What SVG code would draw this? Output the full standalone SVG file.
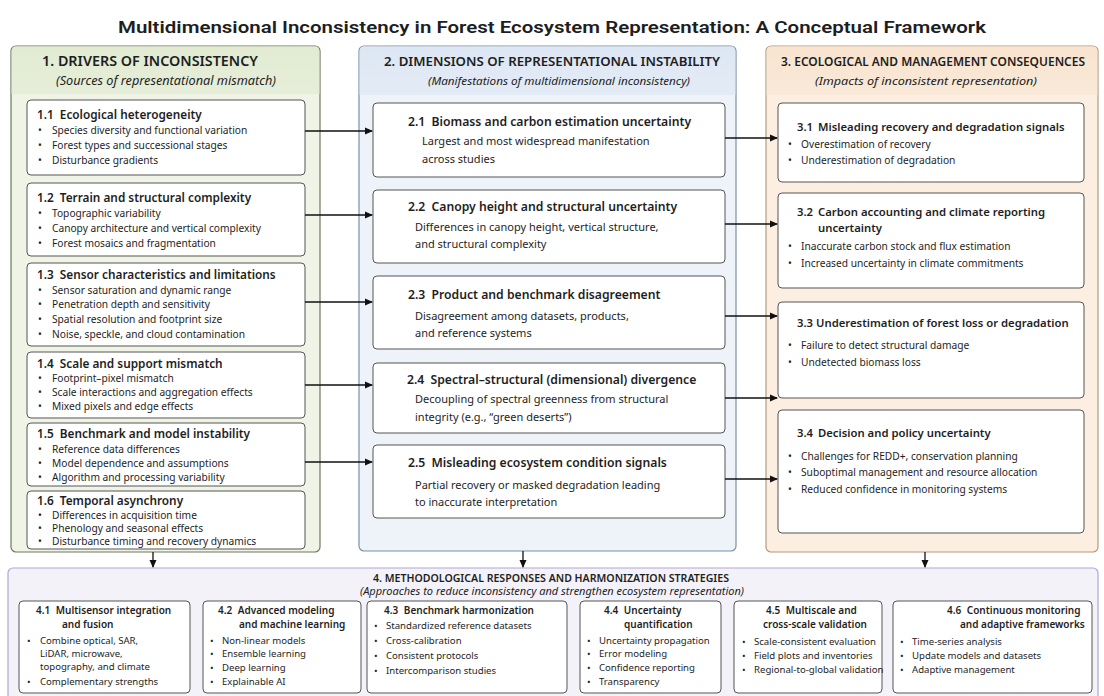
<svg xmlns="http://www.w3.org/2000/svg" width="1104" height="696" viewBox="0 0 1104 696">
<style>
text{font-family:"Noto Sans","Open Sans","Liberation Sans",sans-serif;fill:#1e1e1e}
.title{font-family:"Roboto","Liberation Sans",sans-serif;font-size:16.5px;font-weight:600}
.ph{font-size:13px;font-weight:600}
.ps{font-size:11.5px;font-style:italic}
.bt1{font-size:11.8px;font-weight:600}
.bt2{font-size:12.2px;font-weight:600}
.bt3{font-size:11.3px;font-weight:600}
.b{font-size:10.2px}
.d{font-size:11px}
.st{font-size:10px;font-weight:600}
.sb{font-size:9.6px}
.box{fill:#fff;stroke:#555;stroke-width:1}
.conn line{stroke:#111;stroke-width:1.3}
</style>
<defs>
<marker id="ah" markerWidth="8" markerHeight="8" refX="7" refY="4" orient="auto" markerUnits="userSpaceOnUse">
<path d="M0,0.5 L8,4 L0,7.5 z" fill="#111"/>
</marker>
<linearGradient id="g1" x1="0" y1="0" x2="0" y2="1"><stop offset="0" stop-color="#e2ebd2"/><stop offset="1" stop-color="#e6eed9"/></linearGradient>
<linearGradient id="g2" x1="0" y1="0" x2="0" y2="1"><stop offset="0" stop-color="#dde7f3"/><stop offset="1" stop-color="#e3ebf6"/></linearGradient>
<linearGradient id="g3" x1="0" y1="0" x2="0" y2="1"><stop offset="0" stop-color="#f8e4cf"/><stop offset="1" stop-color="#f9e9d8"/></linearGradient>
</defs>
<rect width="1104" height="696" fill="#ffffff"/>
<text class="title" x="552" y="33" text-anchor="middle" textLength="868" lengthAdjust="spacingAndGlyphs">Multidimensional Inconsistency in Forest Ecosystem Representation: A Conceptual Framework</text>

<g id="panel1">
<rect x="11" y="46" width="309" height="506" rx="5" fill="#f0f4e7" stroke="#6c7a5e" stroke-width="1.2"/>
<path d="M16,46.6 H315 Q319.4,46.6 319.4,51 V94 H11.6 V51 Q11.6,46.6 16,46.6 z" fill="url(#g1)"/>
<text class="ph" x="42" y="66" style="font-size:14.5px" textLength="216" lengthAdjust="spacingAndGlyphs">1. DRIVERS OF INCONSISTENCY</text>
<text class="ps" x="56" y="85" style="font-size:12.5px" textLength="220" lengthAdjust="spacingAndGlyphs">(Sources of representational mismatch)</text>
</g>
<g id="panel2">
<rect x="359" y="46" width="377" height="505" rx="5" fill="#eef3fa" stroke="#7b90aa" stroke-width="1.2"/>
<path d="M364,46.6 H731 Q735.4,46.6 735.4,51 V95 H359.6 V51 Q359.6,46.6 364,46.6 z" fill="url(#g2)"/>
<text class="ph" x="384" y="66" textLength="336" lengthAdjust="spacingAndGlyphs">2. DIMENSIONS OF REPRESENTATIONAL INSTABILITY</text>
<text class="ps" x="428" y="85" textLength="262" lengthAdjust="spacingAndGlyphs">(Manifestations of multidimensional inconsistency)</text>
</g>
<g id="panel3">
<rect x="766" y="46" width="332" height="506" rx="5" fill="#fcefe1" stroke="#b39a80" stroke-width="1.2"/>
<path d="M771,46.6 H1093 Q1097.4,46.6 1097.4,51 V95 H766.6 V51 Q766.6,46.6 771,46.6 z" fill="url(#g3)"/>
<text class="ph" x="781" y="66" style="font-size:11.8px" textLength="304" lengthAdjust="spacingAndGlyphs">3. ECOLOGICAL AND MANAGEMENT CONSEQUENCES</text>
<text class="ps" x="815" y="85" textLength="222" lengthAdjust="spacingAndGlyphs">(Impacts of inconsistent representation)</text>
</g>
<g id="panel4">
<rect x="8" y="568" width="1090" height="140" rx="5" fill="#f4f2f9" stroke="#b3a6d3" stroke-width="1.2"/>
<text class="ph" x="373" y="582" style="font-size:11px" textLength="356" lengthAdjust="spacingAndGlyphs">4. METHODOLOGICAL RESPONSES AND HARMONIZATION STRATEGIES</text>
<text class="ps" x="360" y="595" style="font-size:10.5px" textLength="384" lengthAdjust="spacingAndGlyphs">(Approaches to reduce inconsistency and strengthen ecosystem representation)</text>
</g>

<g id="n11"><rect class="box" x="27" y="100" width="278" height="75" rx="4"/>
<text class="bt1" x="37" y="119">1.1 <tspan dx="3">Ecological heterogeneity</tspan></text>
<text class="b" x="38" y="134">•</text><text class="b" x="52" y="134">Species diversity and functional variation</text>
<text class="b" x="38" y="149">•</text><text class="b" x="52" y="149">Forest types and successional stages</text>
<text class="b" x="38" y="164">•</text><text class="b" x="52" y="164">Disturbance gradients</text></g>
<g id="n12"><rect class="box" x="27" y="183" width="278" height="73" rx="4"/>
<text class="bt1" x="37" y="202">1.2 <tspan dx="3">Terrain and structural complexity</tspan></text>
<text class="b" x="38" y="217">•</text><text class="b" x="52" y="217">Topographic variability</text>
<text class="b" x="38" y="232">•</text><text class="b" x="52" y="232">Canopy architecture and vertical complexity</text>
<text class="b" x="38" y="247">•</text><text class="b" x="52" y="247">Forest mosaics and fragmentation</text></g>
<g id="n13"><rect class="box" x="27" y="263" width="278" height="83" rx="4"/>
<text class="bt1" x="37" y="279">1.3 <tspan dx="3">Sensor characteristics and limitations</tspan></text>
<text class="b" x="38" y="294">•</text><text class="b" x="52" y="294">Sensor saturation and dynamic range</text>
<text class="b" x="38" y="308">•</text><text class="b" x="52" y="308">Penetration depth and sensitivity</text>
<text class="b" x="38" y="323">•</text><text class="b" x="52" y="323">Spatial resolution and footprint size</text>
<text class="b" x="38" y="338">•</text><text class="b" x="52" y="338">Noise, speckle, and cloud contamination</text></g>
<g id="n14"><rect class="box" x="27" y="352" width="278" height="66" rx="4"/>
<text class="bt1" x="37" y="368">1.4 <tspan dx="3">Scale and support mismatch</tspan></text>
<text class="b" x="38" y="382">•</text><text class="b" x="52" y="382">Footprint–pixel mismatch</text>
<text class="b" x="38" y="396">•</text><text class="b" x="52" y="396">Scale interactions and aggregation effects</text>
<text class="b" x="38" y="410">•</text><text class="b" x="52" y="410">Mixed pixels and edge effects</text></g>
<g id="n15"><rect class="box" x="27" y="423" width="278" height="63" rx="4"/>
<text class="bt1" x="37" y="438">1.5 <tspan dx="3">Benchmark and model instability</tspan></text>
<text class="b" x="38" y="453">•</text><text class="b" x="52" y="453">Reference data differences</text>
<text class="b" x="38" y="467">•</text><text class="b" x="52" y="467">Model dependence and assumptions</text>
<text class="b" x="38" y="481">•</text><text class="b" x="52" y="481">Algorithm and processing variability</text></g>
<g id="n16"><rect class="box" x="27" y="491" width="278" height="58" rx="4"/>
<text class="bt1" x="37" y="505">1.6 <tspan dx="3">Temporal asynchrony</tspan></text>
<text class="b" x="38" y="519">•</text><text class="b" x="52" y="519">Differences in acquisition time</text>
<text class="b" x="38" y="532">•</text><text class="b" x="52" y="532">Phenology and seasonal effects</text>
<text class="b" x="38" y="545">•</text><text class="b" x="52" y="545">Disturbance timing and recovery dynamics</text></g>

<g id="n21"><rect class="box" x="373" y="103" width="352" height="74" rx="4"/>
<text class="bt2" x="408" y="126">2.1 <tspan dx="3">Biomass and carbon estimation uncertainty</tspan></text>
<text class="d" x="422" y="145">Largest and most widespread manifestation</text>
<text class="d" x="422" y="163">across studies</text></g>
<g id="n22"><rect class="box" x="373" y="190" width="352" height="73" rx="4"/>
<text class="bt2" x="408" y="211">2.2 <tspan dx="3">Canopy height and structural uncertainty</tspan></text>
<text class="d" x="415" y="231">Differences in canopy height, vertical structure,</text>
<text class="d" x="415" y="248">and structural complexity</text></g>
<g id="n23"><rect class="box" x="373" y="276" width="352" height="73" rx="4"/>
<text class="bt2" x="408" y="299">2.3 <tspan dx="3">Product and benchmark disagreement</tspan></text>
<text class="d" x="415" y="320">Disagreement among datasets, products,</text>
<text class="d" x="415" y="337">and reference systems</text></g>
<g id="n24"><rect class="box" x="373" y="363" width="352" height="70" rx="4"/>
<text class="bt2" x="407" y="384">2.4 <tspan dx="3">Spectral–structural (dimensional) divergence</tspan></text>
<text class="d" x="415" y="403">Decoupling of spectral greenness from structural</text>
<text class="d" x="415" y="421">integrity (e.g., “green deserts”)</text></g>
<g id="n25"><rect class="box" x="373" y="445" width="352" height="73" rx="4"/>
<text class="bt2" x="408" y="467">2.5 <tspan dx="3">Misleading ecosystem condition signals</tspan></text>
<text class="d" x="415" y="489">Partial recovery or masked degradation leading</text>
<text class="d" x="415" y="506">to inaccurate interpretation</text></g>

<g id="n31"><rect class="box" x="778" y="103" width="306" height="79" rx="4"/>
<text class="bt3" x="797" y="131">3.1 <tspan dx="2">Misleading recovery and degradation signals</tspan></text>
<text class="b" x="788" y="148">•</text><text class="b" x="801" y="148">Overestimation of recovery</text>
<text class="b" x="788" y="164">•</text><text class="b" x="801" y="164">Underestimation of degradation</text></g>
<g id="n32"><rect class="box" x="778" y="193" width="306" height="95" rx="4"/>
<text class="bt3" x="797" y="216">3.2 <tspan dx="2">Carbon accounting and climate reporting</tspan></text>
<text class="bt3" x="818" y="232">uncertainty</text>
<text class="b" x="788" y="250">•</text><text class="b" x="801" y="250">Inaccurate carbon stock and flux estimation</text>
<text class="b" x="788" y="267">•</text><text class="b" x="801" y="267">Increased uncertainty in climate commitments</text></g>
<g id="n33"><rect class="box" x="778" y="302" width="306" height="96" rx="4"/>
<text class="bt3" x="797" y="327">3.3 Underestimation of forest loss or degradation</text>
<text class="b" x="788" y="349">•</text><text class="b" x="801" y="349">Failure to detect structural damage</text>
<text class="b" x="788" y="366">•</text><text class="b" x="801" y="366">Undetected biomass loss</text></g>
<g id="n34"><rect class="box" x="778" y="410" width="306" height="123" rx="4"/>
<text class="bt3" x="797" y="437">3.4 <tspan dx="2">Decision and policy uncertainty</tspan></text>
<text class="b" x="788" y="460">•</text><text class="b" x="801" y="460">Challenges for REDD+, conservation planning</text>
<text class="b" x="788" y="476">•</text><text class="b" x="801" y="476">Suboptimal management and resource allocation</text>
<text class="b" x="788" y="493">•</text><text class="b" x="801" y="493">Reduced confidence in monitoring systems</text></g>

<g id="n41"><rect class="box" x="19" y="601" width="171" height="92" rx="4"/>
<text class="st" x="36" y="614">4.1 <tspan dx="3">Multisensor integration</tspan></text>
<text class="st" x="62" y="628">and fusion</text>
<text class="sb" x="27" y="644">•</text><text class="sb" x="40" y="644">Combine optical, SAR,</text>
<text class="sb" x="40" y="657">LiDAR, microwave,</text>
<text class="sb" x="40" y="670">topography, and climate</text>
<text class="sb" x="27" y="685">•</text><text class="sb" x="40" y="685">Complementary strengths</text></g>
<g id="n42"><rect class="box" x="203" y="601" width="158" height="92" rx="4"/>
<text class="st" x="218" y="614">4.2 <tspan dx="3">Advanced modeling</tspan></text>
<text class="st" x="239" y="628">and machine learning</text>
<text class="sb" x="210" y="644">•</text><text class="sb" x="222" y="644">Non-linear models</text>
<text class="sb" x="210" y="657">•</text><text class="sb" x="222" y="657">Ensemble learning</text>
<text class="sb" x="210" y="671">•</text><text class="sb" x="222" y="671">Deep learning</text>
<text class="sb" x="210" y="685">•</text><text class="sb" x="222" y="685">Explainable AI</text></g>
<g id="n43"><rect class="box" x="367" y="601" width="200" height="92" rx="4"/>
<text class="st" x="384" y="614">4.3 <tspan dx="3">Benchmark harmonization</tspan></text>
<text class="sb" x="374" y="629">•</text><text class="sb" x="386" y="629">Standardized reference datasets</text>
<text class="sb" x="374" y="644">•</text><text class="sb" x="386" y="644">Cross-calibration</text>
<text class="sb" x="374" y="659">•</text><text class="sb" x="386" y="659">Consistent protocols</text>
<text class="sb" x="374" y="674">•</text><text class="sb" x="386" y="674">Intercomparison studies</text></g>
<g id="n44"><rect class="box" x="580" y="601" width="141" height="92" rx="4"/>
<text class="st" x="604" y="614">4.4 <tspan dx="3">Uncertainty</tspan></text>
<text class="st" x="624" y="628">quantification</text>
<text class="sb" x="587" y="644">•</text><text class="sb" x="599" y="644">Uncertainty propagation</text>
<text class="sb" x="587" y="657">•</text><text class="sb" x="599" y="657">Error modeling</text>
<text class="sb" x="587" y="671">•</text><text class="sb" x="599" y="671">Confidence reporting</text>
<text class="sb" x="587" y="685">•</text><text class="sb" x="599" y="685">Transparency</text></g>
<g id="n45"><rect class="box" x="734" y="601" width="148" height="92" rx="4"/>
<text class="st" x="766" y="614">4.5 <tspan dx="3">Multiscale and</tspan></text>
<text class="st" x="763" y="628">cross-scale validation</text>
<text class="sb" x="742" y="645">•</text><text class="sb" x="754" y="645">Scale-consistent evaluation</text>
<text class="sb" x="742" y="659">•</text><text class="sb" x="754" y="659">Field plots and inventories</text>
<text class="sb" x="742" y="673">•</text><text class="sb" x="754" y="673">Regional-to-global validation</text></g>
<g id="n46"><rect class="box" x="893" y="601" width="199" height="92" rx="4"/>
<text class="st" x="947" y="614">4.6 <tspan dx="3">Continuous monitoring</tspan></text>
<text class="st" x="960" y="628">and adaptive frameworks</text>
<text class="sb" x="900" y="645">•</text><text class="sb" x="912" y="645">Time-series analysis</text>
<text class="sb" x="900" y="659">•</text><text class="sb" x="912" y="659">Update models and datasets</text>
<text class="sb" x="900" y="673">•</text><text class="sb" x="912" y="673">Adaptive management</text></g>

<g id="connectors" class="conn">
<line x1="305" y1="131" x2="372" y2="131" marker-end="url(#ah)"/>
<line x1="305" y1="215" x2="372" y2="215" marker-end="url(#ah)"/>
<line x1="305" y1="302" x2="372" y2="302" marker-end="url(#ah)"/>
<line x1="305" y1="385" x2="372" y2="385" marker-end="url(#ah)"/>
<line x1="305" y1="462" x2="372" y2="462" marker-end="url(#ah)"/>
<line x1="725" y1="138" x2="777" y2="138" marker-end="url(#ah)"/>
<line x1="725" y1="224" x2="777" y2="224" marker-end="url(#ah)"/>
<line x1="725" y1="316" x2="777" y2="316" marker-end="url(#ah)"/>
<line x1="725" y1="398" x2="777" y2="398" marker-end="url(#ah)"/>
<line x1="725" y1="479" x2="777" y2="479" marker-end="url(#ah)"/>
<line x1="153" y1="552" x2="153" y2="567" marker-end="url(#ah)"/>
<line x1="523" y1="551" x2="523" y2="567" marker-end="url(#ah)"/>
<line x1="925" y1="552" x2="925" y2="567" marker-end="url(#ah)"/>
</g>
</svg>
